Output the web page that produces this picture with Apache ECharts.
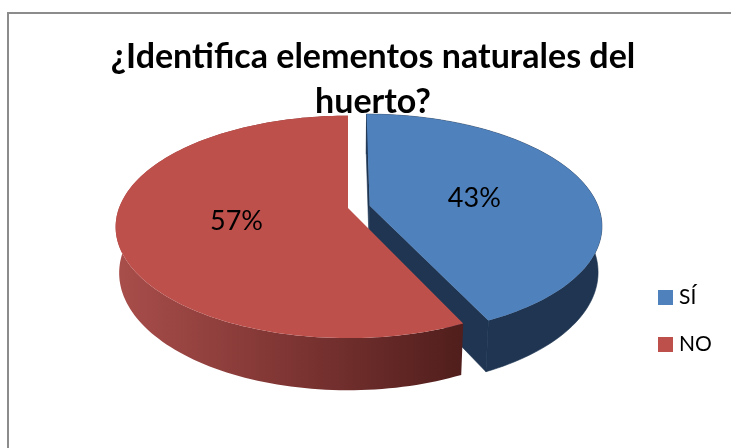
<!DOCTYPE html>
<html><head><meta charset="utf-8">
<style>html,body{margin:0;padding:0;background:#fff}#c{width:731px;height:448px}</style>
<script src="https://cdn.jsdelivr.net/npm/echarts@6/dist/echarts.min.js"></script>
</head><body><div id="c"></div>
<script>
var categories = ['SÍ', 'NO'];
var values = [43, 57];
var labels = ['43%', '57%'];
var titleText = '¿Identifica elementos naturales del\nhuerto?';

var topColors = ['#4f81bd', '#be504c'];
var explodeX = [0.095, 0];
var explodeV = [-0.02, 0];
var labelRadius = [0.48, 0.49];
var labelShiftY = [3, 2];
var total = values.reduce(function (a, b) { return a + b; }, 0);
var XC = 348, YC = 208, R = 229, H = 108, K = 0.17, M = 0.015, D = 46, STEP = 1.5;

function proj(wx, wv, z) {
  var s = 1 / (1 - K * wv + M * z);
  return [XC + R * wx * s, YC + (H * wv + D * z) * s];
}
function rim(idx, deg, z, f) {
  var a = deg * Math.PI / 180;
  f = f === undefined ? 1 : f;
  return proj(explodeX[idx] + f * Math.sin(a), explodeV[idx] - f * Math.cos(a), z);
}
function arc(idx, a0, a1, z) {
  var pts = [], n = Math.max(2, Math.ceil(Math.abs(a1 - a0) / STEP));
  for (var i = 0; i <= n; i++) pts.push(rim(idx, a0 + (a1 - a0) * i / n, z));
  return pts;
}
function makeSeries(idx) {
  var start = 0;
  for (var i = 0; i < idx; i++) start += values[i];
  return {
    type: 'custom',
    name: categories[idx],
    coordinateSystem: 'none',
    itemStyle: { color: topColors[idx] },
    data: [[start, values[idx]]],
    renderItem: function (params, api) {
      var a0 = api.value(0) / total * 360;
      var a1 = a0 + api.value(1) / total * 360;
      var navy = '#1f3552';
      var wallFill = idx === 0 ? navy : {
        type: 'linear', x: 0, y: 0, x2: 1, y2: 0,
        colorStops: [{ offset: 0, color: '#a94e4b' }, { offset: 0.5, color: '#7e3533' }, { offset: 1, color: '#501e1c' }]
      };
      var children = [];
      var centerTop = rim(idx, 0, 0, 0), centerBot = rim(idx, 0, 1, 0);
      if (idx === 0) {
        children.push({ type: 'polygon', shape: { points: [centerTop, rim(idx, a0, 0), rim(idx, a0, 1), centerBot] }, style: { fill: navy, stroke: navy, lineWidth: 0.6 } });
        children.push({ type: 'polygon', shape: { points: [centerTop, rim(idx, a1, 0), rim(idx, a1, 1), centerBot] }, style: { fill: navy, stroke: navy, lineWidth: 0.6 } });
      }
      children.push({ type: 'polygon', shape: { points: arc(idx, a0, a1, 0).concat(arc(idx, a1, a0, 1)) }, style: idx === 0 ? { fill: navy, stroke: navy, lineWidth: 0.6 } : { fill: wallFill } });
      children.push({ type: 'polygon', shape: { points: [centerTop].concat(arc(idx, a0, a1, 0)) }, style: { fill: topColors[idx] } });
      var lp = rim(idx, (a0 + a1) / 2, 0, labelRadius[idx]);
      children.push({ type: 'text', style: { text: labels[idx], x: lp[0], y: lp[1] + labelShiftY[idx], fill: '#000', font: '27px Lato', align: 'center', verticalAlign: 'middle' } });
      return { type: 'group', children: children };
    }
  };
}
var chart = echarts.init(document.getElementById('c'), null, { renderer: 'canvas' });
chart.setOption({
  animation: false,
  backgroundColor: '#fff',
  title: { text: titleText, left: 368, top: 30, textAlign: 'center', textStyle: { fontFamily: 'Lato', fontWeight: 'bold', fontSize: 34, lineHeight: 45, color: '#000' } },
  legend: {
    data: categories, left: 658, top: 287, orient: 'vertical', icon: 'rect', itemWidth: 15, itemHeight: 15, itemGap: 26, padding: 0,
    textStyle: { fontFamily: 'Lato', fontSize: 21, color: '#000', padding: [0, 0, 0, 1] }, selectedMode: false
  },
  graphic: [
    { type: 'line', shape: { x1: 7, y1: 13, x2: 731, y2: 13 }, style: { stroke: '#8c8c8c', lineWidth: 2 }, silent: true },
    { type: 'line', shape: { x1: 8, y1: 12, x2: 8, y2: 448 }, style: { stroke: '#8c8c8c', lineWidth: 2 }, silent: true }
  ],
  series: categories.map(function (c, i) { return makeSeries(i); })
});
</script></body></html>
